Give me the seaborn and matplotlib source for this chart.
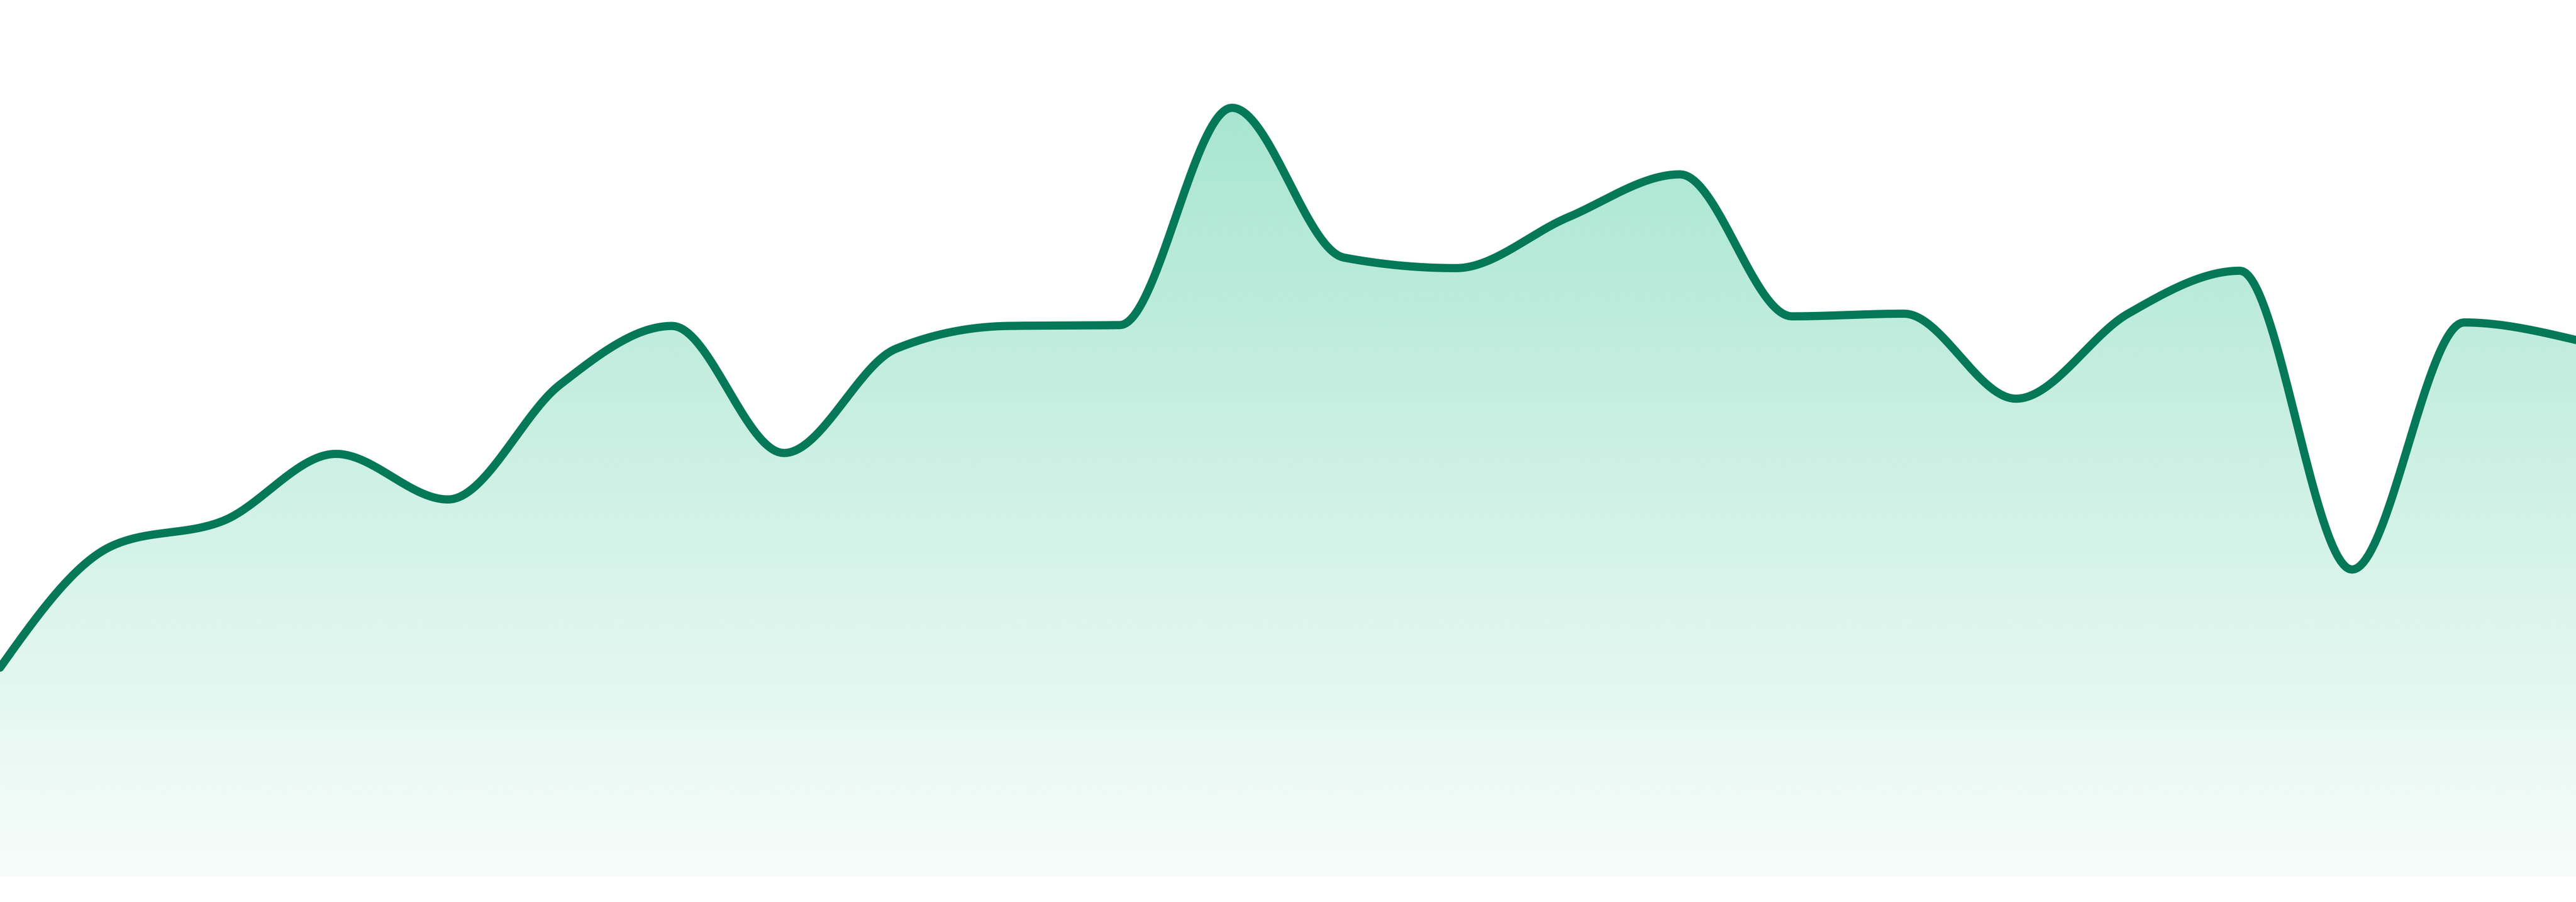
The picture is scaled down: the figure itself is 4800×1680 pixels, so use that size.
import numpy as np
import pandas as pd
import matplotlib
matplotlib.use("Agg")
import matplotlib.pyplot as plt
import seaborn as sns
from matplotlib.patches import Polygon

# ---- data ----
x_index = list(range(24))
values = [23.8, 37.7, 40.6, 48.2, 43.0, 56.1, 62.8, 48.3, 60.2, 62.8, 62.9, 87.7,
          70.6, 69.4, 75.2, 80.1, 63.9, 64.2, 54.5, 64.2, 69.1, 35.0, 63.2, 61.2]

LINE_COLOR = "#047857"
FILL_RGB = (16 / 255, 185 / 255, 129 / 255)
Y_MIN, Y_MAX = -2.94, 100.0


def monotone_curve(x, y, n=40):
    """d3 curveMonotoneX-style cubic Hermite rendering of the series."""
    x = np.asarray(x, float)
    y = np.asarray(y, float)
    m = len(x)
    h = np.diff(x)
    s = np.diff(y) / h
    t = np.zeros(m)
    for i in range(1, m - 1):
        s0, s1 = s[i - 1], s[i]
        p = (s0 * h[i] + s1 * h[i - 1]) / (h[i - 1] + h[i])
        t[i] = (np.sign(s0) + np.sign(s1)) * min(abs(s0), abs(s1), 0.5 * abs(p))
    t[0] = (3 * s[0] - t[1]) / 2
    t[-1] = (3 * s[-1] - t[-2]) / 2
    xs, ys = [], []
    for i in range(m - 1):
        u = np.linspace(0, 1, n, endpoint=(i == m - 2))
        h00 = 2 * u**3 - 3 * u**2 + 1
        h10 = u**3 - 2 * u**2 + u
        h01 = -2 * u**3 + 3 * u**2
        h11 = u**3 - u**2
        xs.append(x[i] + u * h[i])
        ys.append(h00 * y[i] + h10 * h[i] * t[i] + h01 * y[i + 1] + h11 * h[i] * t[i + 1])
    return np.concatenate(xs), np.concatenate(ys)


sns.set_theme(style="white")

fig = plt.figure(figsize=(48, 16.8), dpi=100)
ax = fig.add_axes([0, 0, 1, 1])
ax.set_xlim(0, 23)
ax.set_ylim(Y_MIN, Y_MAX)
ax.axis("off")

xs, ys = monotone_curve(x_index, values)
curve = pd.DataFrame({"x": xs, "y": ys})

# gradient fill under the curve
rows = 600
v = np.linspace(Y_MAX, 0, rows)
alpha = np.clip(0.035 + 0.33 * (v / 87.7), 0, 1)
grad = np.zeros((rows, 2, 4))
grad[..., 0] = FILL_RGB[0]
grad[..., 1] = FILL_RGB[1]
grad[..., 2] = FILL_RGB[2]
grad[..., 3] = alpha[:, None]
im = ax.imshow(grad, extent=(0, 23, 0, Y_MAX), origin="upper", aspect="auto",
               interpolation="bilinear", zorder=1)
poly_pts = np.column_stack([np.r_[xs, xs[-1], xs[0]], np.r_[ys, 0, 0]])
clip = Polygon(poly_pts, closed=True, transform=ax.transData, facecolor="none", edgecolor="none")
ax.add_patch(clip)
im.set_clip_path(clip)

sns.lineplot(data=curve, x="x", y="y", sort=False, color=LINE_COLOR,
             linewidth=11, ax=ax, zorder=3, estimator=None)
ax.set_xlim(0, 23)
ax.set_ylim(Y_MIN, Y_MAX)
ax.axis("off")

fig.savefig("out.png", dpi=100, facecolor="white")
